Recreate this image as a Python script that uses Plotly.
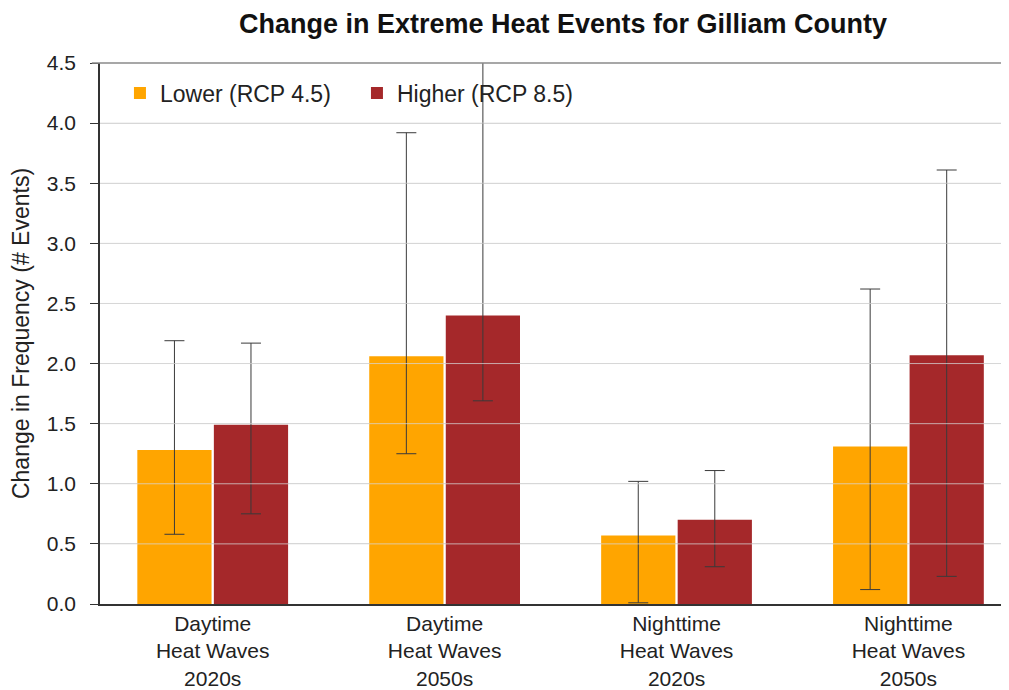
import plotly.graph_objects as go

# categories (x tick labels)
categories = [
    "Daytime<br>Heat Waves<br>2020s",
    "Daytime<br>Heat Waves<br>2050s",
    "Nighttime<br>Heat Waves<br>2020s",
    "Nighttime<br>Heat Waves<br>2050s",
]

# Lower emissions scenario (RCP 4.5)
lower_mean = [1.28, 2.06, 0.57, 1.31]
lower_high = [2.19, 3.92, 1.02, 2.62]
lower_low = [0.58, 1.25, 0.01, 0.12]

# Higher emissions scenario (RCP 8.5)
higher_mean = [1.49, 2.40, 0.70, 2.07]
higher_high = [2.17, 4.60, 1.11, 3.61]
higher_low = [0.75, 1.69, 0.31, 0.23]

y_ticks = [0.0, 0.5, 1.0, 1.5, 2.0, 2.5, 3.0, 3.5, 4.0, 4.5]

FONT = "Liberation Sans, Arial, sans-serif"
ORANGE = "#FFA500"
RED = "#A5282A"
ERR_COLOR = "#3a3a3a"

# page body has an 8px margin, so the figure is a bit smaller than the window
W, H = 1001, 682


def err(mean, high, low):
    return dict(
        type="data",
        symmetric=False,
        array=[h - m for h, m in zip(high, mean)],
        arrayminus=[m - l for m, l in zip(mean, low)],
        color=ERR_COLOR,
        thickness=1,
        width=10,
    )


fig = go.Figure()

fig.add_trace(go.Bar(
    x=categories,
    y=lower_mean,
    name="Lower (RCP 4.5)",
    marker=dict(color=ORANGE, line=dict(width=0)),
    error_y=err(lower_mean, lower_high, lower_low),
))

fig.add_trace(go.Bar(
    x=categories,
    y=higher_mean,
    name="Higher (RCP 8.5)",
    marker=dict(color=RED, line=dict(width=0)),
    error_y=err(higher_mean, higher_high, higher_low),
))

# gridlines drawn over the bars, faint, like the original
shapes = []
for t in y_ticks[1:-1]:
    shapes.append(dict(
        type="line", xref="paper", yref="y", x0=0, x1=1, y0=t, y1=t,
        line=dict(color="rgba(215,215,215,0.75)", width=1), layer="above",
    ))
# darker top border line
shapes.append(dict(
    type="line", xref="paper", yref="paper", x0=-0.009, x1=1, y0=1, y1=1,
    line=dict(color="#8a8a8a", width=1.5), layer="above",
))

fig.update_layout(
    width=W,
    height=H,
    barmode="group",
    bargap=0.34,
    bargroupgap=0.03,
    paper_bgcolor="white",
    plot_bgcolor="white",
    font=dict(family=FONT, color="#222222"),
    title=dict(
        text="<b>Change in Extreme Heat Events for Gilliam County</b>",
        x=555 / W,
        xanchor="center",
        y=1 - 16 / H,
        yanchor="middle",
        font=dict(family=FONT, size=27, color="#111111"),
    ),
    legend=dict(
        orientation="h",
        x=0.022,
        xanchor="left",
        y=(596 - 85) / 541,
        yanchor="middle",
        bgcolor="rgba(0,0,0,0)",
        font=dict(family=FONT, size=23, color="#222222"),
        traceorder="normal",
        entrywidth=192,
        entrywidthmode="pixels",
    ),
    margin=dict(l=92, r=2, t=55, b=86),
    shapes=shapes,
    showlegend=True,
)

fig.update_xaxes(
    range=[-0.486, 3.425],
    showline=True,
    linecolor="#333333",
    linewidth=1.5,
    ticks="",
    showgrid=False,
    automargin=False,
    tickfont=dict(family=FONT, size=21, color="#222222"),
)

fig.update_yaxes(
    range=[0, 4.5],
    tickvals=y_ticks,
    ticktext=[f"{t:.1f}" for t in y_ticks],
    showline=True,
    linecolor="#333333",
    linewidth=1.5,
    ticks="outside",
    ticklen=8,
    tickcolor="#333333",
    ticklabelstandoff=10,
    showgrid=True,
    gridcolor="#d8d8d8",
    zeroline=False,
    automargin=False,
    tickfont=dict(family=FONT, size=21, color="#222222"),
    title=dict(
        text="Change in Frequency (# Events)",
        font=dict(family=FONT, size=23, color="#222222"),
        standoff=13,
    ),
)

fig.write_html("out.html")
